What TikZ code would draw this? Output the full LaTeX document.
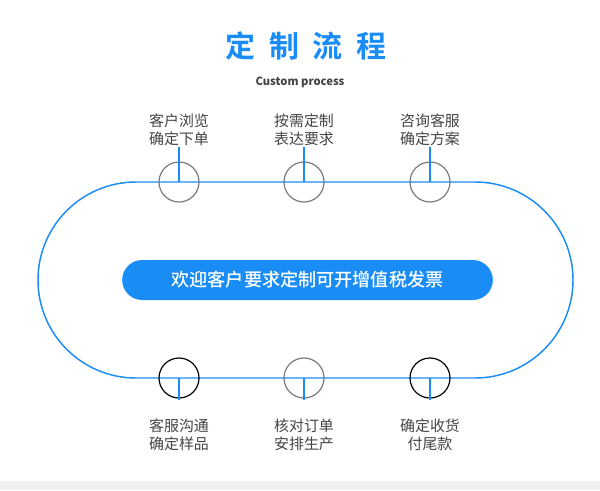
\documentclass[tikz,border=0pt]{standalone}
\usepackage{fontspec}
\newfontfamily\cjk{Noto Sans CJK SC}
\newfontfamily\cjkmed{Noto Sans CJK SC Medium}
\newfontfamily\cjktitle[LetterSpace=45]{Noto Sans CJK SC Bold}
\usetikzlibrary{positioning}
\definecolor{flowblue}{HTML}{1A8CF5}
\definecolor{ringgray}{HTML}{7A7A7A}
\definecolor{txtgray}{HTML}{444444}
\definecolor{bandgray}{HTML}{F0F0F0}

\begin{document}
\begin{tikzpicture}[
    x=0.75pt, y=-0.75pt,
    ring/.style={circle, draw=ringgray, line width=0.9pt, minimum size=30pt, inner sep=0pt},
    steptxt/.style={align=center, text=txtgray, inner sep=1pt, font=\cjk\fontsize{11.2pt}{13.8pt}\selectfont},
    tick/.style={draw=flowblue, line width=1.4pt}
]
\useasboundingbox (0,0) rectangle (600,490);
\fill[bandgray] (0,481) rectangle (600,490);

% title
\node[text=flowblue, font=\cjktitle\fontsize{22.5pt}{24pt}\selectfont] (title) at (306,46) {定制流程};
\node[text=txtgray, font=\cjk\bfseries\fontsize{8.4pt}{10pt}\selectfont] (sub) at (300,82) {Custom process};

% track
\draw[flowblue, line width=1.1pt, rounded corners=73.5pt] (38,182) rectangle (573,378);
\node[fill=flowblue, rounded corners=15pt, minimum width=278pt, minimum height=30pt,
      text=white, font=\cjkmed\fontsize{13.6pt}{15pt}\selectfont] (note) at (307.5,280) {欢迎客户要求定制可开增值税发票};

% top steps
\node[ring] (c1) at (179,182) {};
\node[ring] (c2) at (304,182) {};
\node[ring] (c3) at (430,182) {};
\node[steptxt, above=10.5pt of c1] (t1) {客户浏览\\确定下单};
\node[steptxt, above=10.5pt of c2] (t2) {按需定制\\表达要求};
\node[steptxt, above=10.5pt of c3] (t3) {咨询客服\\确定方案};
\draw[tick] (t1.south) -- (c1.center);
\draw[tick] (t2.south) -- (c2.center);
\draw[tick] (t3.south) -- (c3.center);

% bottom steps
\node[ring, draw=black] (c4) at (179,378) {};
\node[ring] (c5) at (304,378) {};
\node[ring, draw=black] (c6) at (430,378) {};
\node[steptxt, below=14pt of c4] (b1) {客服沟通\\确定样品};
\node[steptxt, below=14pt of c5] (b2) {核对订单\\安排生产};
\node[steptxt, below=14pt of c6] (b3) {确定收货\\付尾款};
\draw[tick] (c4.center) -- ++(0,22);
\draw[tick] (c5.center) -- ++(0,22);
\draw[tick] (c6.center) -- ++(0,22);
\end{tikzpicture}
\end{document}
